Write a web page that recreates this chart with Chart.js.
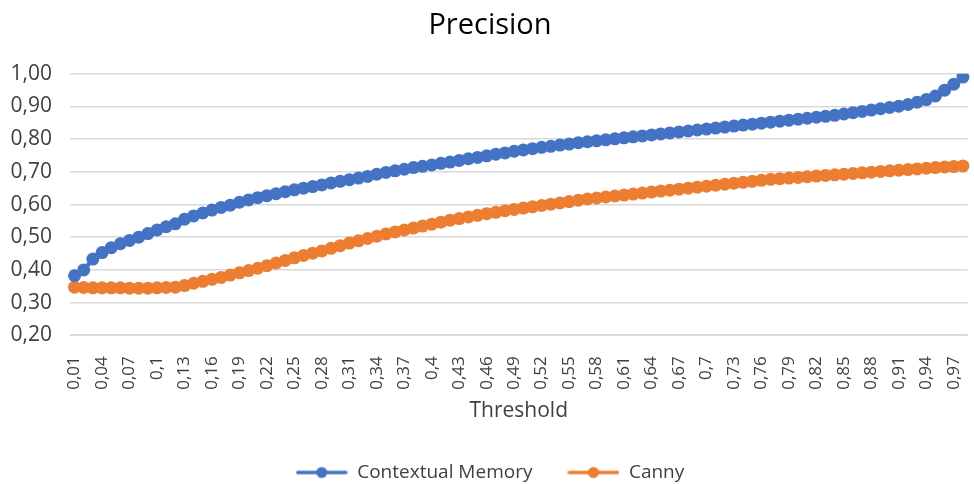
<!DOCTYPE html>
<html>
<head>
<meta charset="utf-8">
<script src="https://cdn.jsdelivr.net/npm/chart.js@4.4.1/dist/chart.umd.min.js"></script>
<style>
  html, body { margin: 0; padding: 0; background: #fff; }
  #wrap { width: 974px; height: 484px; }
</style>
</head>
<body>
<div id="wrap"><canvas id="precisionChart"></canvas></div>
<script>
// thresholds on the x axis
const thresholds = [
    0.01, 0.02, 0.03, 0.04, 0.05, 0.06, 0.07, 0.08, 0.09, 0.10,
    0.11, 0.12, 0.13, 0.14, 0.15, 0.16, 0.17, 0.18, 0.19, 0.20,
    0.21, 0.22, 0.23, 0.24, 0.25, 0.26, 0.27, 0.28, 0.29, 0.30,
    0.31, 0.32, 0.33, 0.34, 0.35, 0.36, 0.37, 0.38, 0.39, 0.40,
    0.41, 0.42, 0.43, 0.44, 0.45, 0.46, 0.47, 0.48, 0.49, 0.50,
    0.51, 0.52, 0.53, 0.54, 0.55, 0.56, 0.57, 0.58, 0.59, 0.60,
    0.61, 0.62, 0.63, 0.64, 0.65, 0.66, 0.67, 0.68, 0.69, 0.70,
    0.71, 0.72, 0.73, 0.74, 0.75, 0.76, 0.77, 0.78, 0.79, 0.80,
    0.81, 0.82, 0.83, 0.84, 0.85, 0.86, 0.87, 0.88, 0.89, 0.90,
    0.91, 0.92, 0.93, 0.94, 0.95, 0.96, 0.97, 0.98
];

const contextualMemory = [
    0.382, 0.400, 0.433, 0.453, 0.468, 0.480, 0.490, 0.500, 0.511, 0.522,
    0.532, 0.541, 0.555, 0.565, 0.574, 0.583, 0.591, 0.598, 0.607, 0.614,
    0.621, 0.627, 0.633, 0.639, 0.645, 0.650, 0.655, 0.660, 0.666, 0.671,
    0.676, 0.681, 0.686, 0.693, 0.698, 0.703, 0.708, 0.713, 0.717, 0.721,
    0.726, 0.730, 0.735, 0.740, 0.744, 0.749, 0.754, 0.758, 0.763, 0.767,
    0.771, 0.775, 0.778, 0.782, 0.785, 0.789, 0.792, 0.795, 0.798, 0.801,
    0.804, 0.807, 0.810, 0.813, 0.816, 0.819, 0.822, 0.825, 0.828, 0.831,
    0.834, 0.837, 0.840, 0.843, 0.846, 0.849, 0.852, 0.855, 0.858, 0.861,
    0.864, 0.867, 0.870, 0.873, 0.877, 0.881, 0.885, 0.889, 0.893, 0.897,
    0.901, 0.906, 0.913, 0.921, 0.932, 0.950, 0.968, 0.990
];

const canny = [
    0.347, 0.346, 0.345, 0.345, 0.345, 0.345, 0.344, 0.344, 0.344, 0.345,
    0.346, 0.347, 0.352, 0.359, 0.365, 0.371, 0.377, 0.384, 0.391, 0.398,
    0.405, 0.413, 0.421, 0.429, 0.437, 0.444, 0.451, 0.458, 0.466, 0.474,
    0.482, 0.489, 0.496, 0.503, 0.510, 0.516, 0.522, 0.528, 0.534, 0.540,
    0.546, 0.552, 0.557, 0.562, 0.567, 0.572, 0.576, 0.581, 0.585, 0.589,
    0.593, 0.597, 0.601, 0.605, 0.609, 0.613, 0.617, 0.620, 0.623, 0.626,
    0.629, 0.632, 0.635, 0.638, 0.641, 0.644, 0.647, 0.650, 0.653, 0.656,
    0.659, 0.662, 0.665, 0.668, 0.671, 0.674, 0.677, 0.679, 0.681, 0.683,
    0.685, 0.687, 0.689, 0.691, 0.693, 0.695, 0.697, 0.699, 0.701, 0.703,
    0.705, 0.707, 0.709, 0.711, 0.713, 0.715, 0.716, 0.718
];

const yTicks = [0.20, 0.30, 0.40, 0.50, 0.60, 0.70, 0.80, 0.90, 1.00];

const BLUE = '#4472C4';
const ORANGE = '#ED7D31';
const TEXT = '#404040';
const FONT = '"Open Sans", sans-serif';

// excel style decimal comma, trailing zeros dropped on the category axis
function commaLabel(v) {
    return String(Number(v.toFixed(2))).replace('.', ',');
}

// small line+dot marker for the legend
function legendMarker(color) {
    const c = document.createElement('canvas');
    c.width = 52;
    c.height = 14;
    const g = c.getContext('2d');
    g.strokeStyle = color;
    g.lineWidth = 3.5;
    g.lineCap = 'round';
    g.beginPath();
    g.moveTo(2, 7);
    g.lineTo(50, 7);
    g.stroke();
    g.fillStyle = color;
    g.beginPath();
    g.arc(26, 7, 5.5, 0, Math.PI * 2);
    g.fill();
    return c;
}

const ctx = document.getElementById('precisionChart').getContext('2d');
new Chart(ctx, {
    type: 'line',
    data: {
        labels: thresholds.map(commaLabel),
        datasets: [
            {
                label: 'Contextual Memory',
                data: contextualMemory,
                borderColor: BLUE,
                backgroundColor: BLUE,
                borderWidth: 4,
                pointRadius: 6.5,
                pointBorderWidth: 0,
                pointHoverRadius: 6.5
            },
            {
                label: 'Canny',
                data: canny,
                borderColor: ORANGE,
                backgroundColor: ORANGE,
                borderWidth: 4,
                pointRadius: 6.5,
                pointBorderWidth: 0,
                pointHoverRadius: 6.5
            }
        ]
    },
    options: {
        responsive: true,
        maintainAspectRatio: false,
        animation: false,
        layout: { padding: { left: 10, right: 4, top: 0, bottom: -8 } },
        plugins: {
            title: {
                display: true,
                text: 'Precision',
                color: '#000',
                font: { family: FONT, size: 29, weight: 'normal', lineHeight: 1.2 },
                padding: { top: 8, bottom: 31 }
            },
            legend: {
                position: 'bottom',
                labels: {
                    color: TEXT,
                    font: { family: FONT, size: 19 },
                    usePointStyle: true,
                    pointStyleWidth: 52,
                    boxHeight: 14,
                    padding: 35,
                    generateLabels: function(chart) {
                        return chart.data.datasets.map(function(ds, i) {
                            return {
                                text: ds.label,
                                fillStyle: ds.borderColor,
                                strokeStyle: ds.borderColor,
                                fontColor: TEXT,
                                pointStyle: legendMarker(ds.borderColor),
                                datasetIndex: i,
                                hidden: false
                            };
                        });
                    }
                }
            },
            tooltip: { enabled: false }
        },
        scales: {
            x: {
                offset: true,
                grid: { display: false },
                border: { color: '#d9d9d9' },
                title: {
                    display: true,
                    text: 'Threshold',
                    color: TEXT,
                    font: { family: FONT, size: 21 },
                    padding: { top: -4, bottom: 4 }
                },
                ticks: {
                    autoSkip: false,
                    minRotation: 90,
                    maxRotation: 90,
                    padding: 13,
                    color: TEXT,
                    font: { family: FONT, size: 17 },
                    callback: function(value, index) {
                        return index % 3 === 0 ? this.getLabelForValue(value) : '';
                    }
                },
                afterFit: function(axis) {
                    // plot area should run to the edges like the excel original
                    axis.paddingLeft = 0;
                    axis.paddingRight = 0;
                }
            },
            y: {
                min: yTicks[0],
                max: yTicks[yTicks.length - 1],
                border: { display: false },
                grid: { color: '#d9d9d9', lineWidth: 1.5, drawTicks: false },
                afterBuildTicks: function(axis) {
                    axis.ticks = yTicks.map(v => ({ value: v }));
                },
                afterFit: function(axis) {
                    axis.width = 60;
                },
                ticks: {
                    color: TEXT,
                    padding: 18,
                    font: { family: FONT, size: 21 },
                    callback: function(value) {
                        return value.toFixed(2).replace('.', ',');
                    }
                }
            }
        }
    }
});
</script>
</body>
</html>
